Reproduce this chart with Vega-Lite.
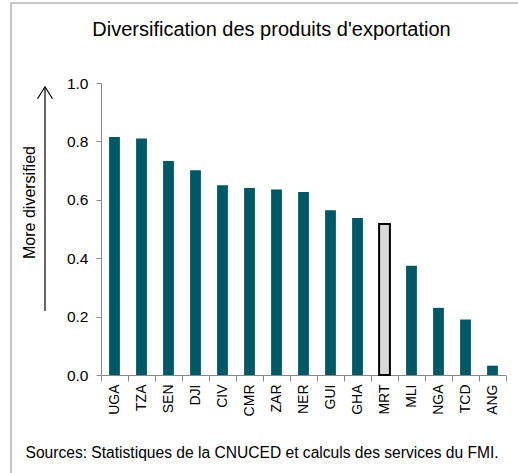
{
  "$schema": "https://vega.github.io/schema/vega-lite/v6.json",
  "width": 405,
  "height": 292,
  "autosize": {"type": "none"},
  "padding": {"left": 101, "top": 83, "right": 12, "bottom": 98},
  "background": "white",
  "config": {
    "view": {"stroke": null},
    "font": "Liberation Sans"
  },
  "title": {
    "text": "Diversification des produits d'exportation",
    "font": "Liberation Sans",
    "fontSize": 20,
    "fontWeight": "normal",
    "color": "#000000",
    "anchor": "middle",
    "frame": "group",
    "baseline": "alphabetic",
    "dx": -32,
    "offset": 0,
    "dy": 53.5
  },
  "datasets": {
    "bars": [
      {"country": "UGA", "value": 0.815, "highlight": "no"},
      {"country": "TZA", "value": 0.810, "highlight": "no"},
      {"country": "SEN", "value": 0.733, "highlight": "no"},
      {"country": "DJI", "value": 0.701, "highlight": "no"},
      {"country": "CIV", "value": 0.650, "highlight": "no"},
      {"country": "CMR", "value": 0.640, "highlight": "no"},
      {"country": "ZAR", "value": 0.635, "highlight": "no"},
      {"country": "NER", "value": 0.627, "highlight": "no"},
      {"country": "GUI", "value": 0.564, "highlight": "no"},
      {"country": "GHA", "value": 0.538, "highlight": "no"},
      {"country": "MRT", "value": 0.517, "highlight": "yes"},
      {"country": "MLI", "value": 0.374, "highlight": "no"},
      {"country": "NGA", "value": 0.230, "highlight": "no"},
      {"country": "TCD", "value": 0.190, "highlight": "no"},
      {"country": "ANG", "value": 0.032, "highlight": "no"}
    ],
    "arrow": [
      {"from": 0.219, "to": 0.987}
    ]
  },
  "layer": [
    {
      "data": {"name": "bars"},
      "mark": {"type": "bar", "width": {"band": 0.4}},
      "encoding": {
        "x": {
          "field": "country",
          "type": "nominal",
          "sort": null,
          "scale": {"paddingInner": 0, "paddingOuter": 0},
          "axis": {
            "title": "Sources: Statistiques de la CNUCED et calculs des services du FMI.",
            "titleFont": "Liberation Sans",
            "titleFontSize": 15.6,
            "titleFontWeight": "normal",
            "titleColor": "#000000",
            "titleX": -76,
            "titleY": 77,
            "titleAlign": "left",
            "titleAnchor": "start",
            "titleBaseline": "middle",
            "labelAngle": -90,
            "labelAlign": "right",
            "labelBaseline": "middle",
            "labelFontSize": 14,
            "labelColor": "#000000",
            "labelPadding": 3,
            "tickBand": "extent",
            "tickSize": 6,
            "tickColor": "#888888",
            "domainColor": "#888888",
            "grid": false
          }
        },
        "y": {
          "field": "value",
          "type": "quantitative",
          "scale": {"domain": [0, 1], "nice": false},
          "axis": {
            "title": "More diversified",
            "titleFont": "Liberation Sans",
            "titleFontSize": 16,
            "titleFontWeight": "normal",
            "titleColor": "#000000",
            "titleAngle": -90,
            "titleX": -72,
            "titleY": 119,
            "titleAlign": "center",
            "titleBaseline": "middle",
            "values": [0, 0.2, 0.4, 0.6, 0.8, 1.0],
            "format": ".1f",
            "labelFontSize": 15.5,
            "labelColor": "#000000",
            "labelPadding": 8,
            "tickSize": 5,
            "tickColor": "#888888",
            "domainColor": "#888888",
            "grid": false
          }
        },
        "fill": {
          "field": "highlight",
          "type": "nominal",
          "scale": {"domain": ["no", "yes"], "range": ["#005866", "#D9D9D9"]},
          "legend": null
        },
        "stroke": {
          "field": "highlight",
          "type": "nominal",
          "scale": {"domain": ["no", "yes"], "range": ["#005866", "#000000"]},
          "legend": null
        },
        "strokeWidth": {
          "field": "highlight",
          "type": "nominal",
          "scale": {"domain": ["no", "yes"], "range": [0, 2]},
          "legend": null
        }
      }
    },
    {
      "data": {"name": "arrow"},
      "mark": {"type": "rule", "color": "#000000", "strokeWidth": 1.2},
      "encoding": {
        "x": {"value": -56},
        "y": {"field": "from", "type": "quantitative"},
        "y2": {"field": "to"}
      }
    },
    {
      "data": {"name": "arrow"},
      "mark": {"type": "point", "shape": "M-1,1.6L0,0L1,1.6", "filled": false, "size": 225, "stroke": "#000000", "strokeWidth": 1.2, "opacity": 1},
      "encoding": {
        "x": {"value": -56},
        "y": {"field": "to", "type": "quantitative"}
      }
    },
    {
      "data": {"values": [{"k": 1}]},
      "mark": {"type": "rule", "color": "#8c8c8c", "strokeWidth": 1},
      "encoding": {
        "x": {"value": -90},
        "y": {"value": -80},
        "y2": {"value": 400}
      }
    },
    {
      "data": {"values": [{"k": 1}]},
      "mark": {"type": "rule", "color": "#8c8c8c", "strokeWidth": 1},
      "encoding": {
        "x": {"value": -90},
        "x2": {"value": 430},
        "y": {"value": -80}
      }
    }
  ]
}
